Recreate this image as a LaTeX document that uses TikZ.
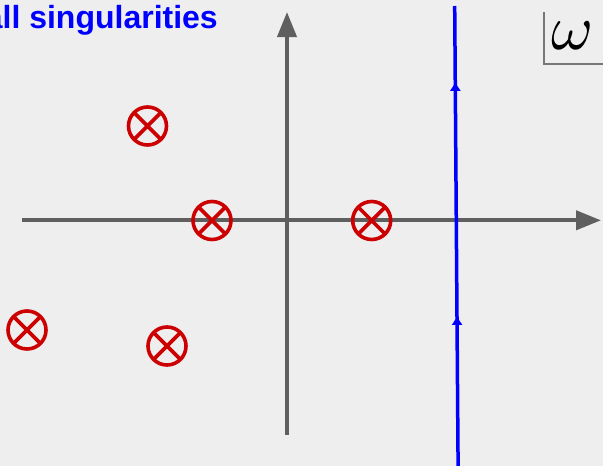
\documentclass[tikz,border=0pt]{standalone}
\usepackage{fontspec}
\setsansfont{Liberation Sans}
\usepackage{tikz}
\usetikzlibrary{arrows.meta, decorations.markings}
\definecolor{canvas}{HTML}{EEEEEE}
\definecolor{axisgray}{HTML}{5F5F5F}
\definecolor{boxgray}{HTML}{777777}
\definecolor{polered}{HTML}{CC0000}
\definecolor{contour}{HTML}{0000FF}

\begin{document}
\begin{tikzpicture}[
  x=1pt, y=-1pt,
  axis/.style={line width=4pt, color=axisgray, -{Triangle[length=25pt, width=19pt]}},
  pole/.style={circle, draw=polered, line width=3.6pt, minimum size=38pt, inner sep=0pt,
               path picture={\draw[polered, line width=3.6pt]
                 (path picture bounding box.north west) -- (path picture bounding box.south east)
                 (path picture bounding box.north east) -- (path picture bounding box.south west);}},
  contourline/.style={line width=3.5pt, color=contour,
               decoration={markings,
                 mark=at position 0.324 with {\arrow{Triangle[length=8pt, width=10pt]}},
                 mark=at position 0.833 with {\arrow{Triangle[length=8pt, width=10pt]}}},
               postaction={decorate}},
  frame/.style={line width=1.5pt, color=boxgray},
]
  \fill[canvas] (0,0) rectangle (603,466);
  \useasboundingbox (0,0) rectangle (603,466);

  % axes
  \coordinate (xstart) at (22,220.3);
  \coordinate (xend) at (601,220.3);
  \coordinate (ystart) at (287,435);
  \coordinate (yend) at (287,12);
  \draw[axis] (xstart) -- (xend);
  \draw[axis] (ystart) -- (yend);

  % singularities
  \node[pole] (p1) at (147.5,126) {};
  \node[pole] (p2) at (212,220.5) {};
  \node[pole] (p3) at (371.7,220.5) {};
  \node[pole] (p4) at (27,330) {};
  \node[pole] (p5) at (167,346) {};

  % contour
  \coordinate (ctop) at (454.7,6);
  \coordinate (cbottom) at (458.1,466);
  \draw[contourline] (cbottom) -- (ctop);

  % label
  \node[anchor=base east, inner sep=0pt, text=contour, font=\sffamily\bfseries\fontsize{32}{32}\selectfont]
    (label) at (218,28) {all singularities};

  % omega box
  \coordinate (wtop) at (544,12);
  \coordinate (wcorner) at (544,64);
  \coordinate (wright) at (603,64);
  \draw[frame] (wtop) -- (wcorner) -- (wright);
  \node[inner sep=0pt] (omega) at (572.5,35.5) {\scalebox{6.4}{$\omega$}};
\end{tikzpicture}
\end{document}
